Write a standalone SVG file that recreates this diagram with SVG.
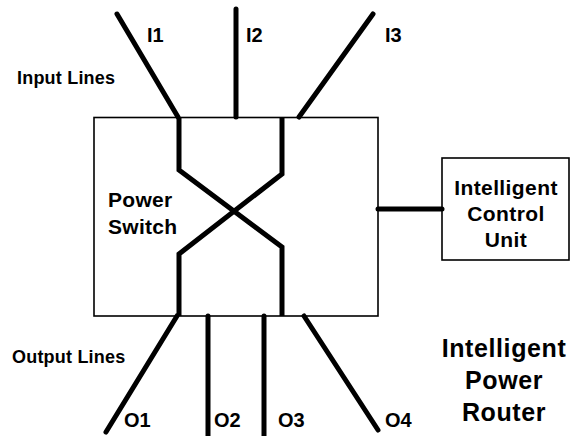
<svg xmlns="http://www.w3.org/2000/svg" width="571" height="436" viewBox="0 0 571 436">
<style>
.box{fill:#fff;stroke:#000;stroke-width:1.6}
.wire{fill:none;stroke:#000;stroke-width:5;stroke-linecap:round;stroke-linejoin:miter}
text{font-family:"Liberation Sans",Arial,sans-serif;font-weight:bold;fill:#000}
.lbl{font-size:20px}
.olbl{font-size:20px}
.side{font-size:18px;letter-spacing:0.2px}
.mid{font-size:21px;letter-spacing:0.4px;text-anchor:middle}
.big{font-size:25px;letter-spacing:0.6px;text-anchor:middle}
.ps{font-size:21px;letter-spacing:0.3px}
</style>
<rect width="571" height="436" fill="#fff"/>
<g id="power-switch">
<rect class="box" x="94" y="117.5" width="284" height="198.5"/>
<text class="ps" x="108" y="207">Power</text>
<text class="ps" x="108" y="234">Switch</text>
</g>
<g id="control-unit">
<rect class="box" x="442" y="158" width="127" height="102"/>
<text class="mid" x="506" y="195">Intelligent</text>
<text class="mid" x="506" y="221">Control</text>
<text class="mid" x="506" y="247">Unit</text>
</g>
<g id="connectors">
<line class="wire" x1="117" y1="14" x2="178" y2="117"/>
<line class="wire" x1="236" y1="9" x2="236" y2="117"/>
<line class="wire" x1="373" y1="14" x2="299" y2="117"/>
<path class="wire" d="M179,117 V170 L282,247 V316" style="stroke-linecap:butt"/>
<path class="wire" d="M282,117 V174 L179,254 V316" style="stroke-linecap:butt"/>
<line class="wire" x1="177" y1="316" x2="106" y2="432"/>
<line class="wire" x1="208" y1="316" x2="208" y2="438"/>
<line class="wire" x1="264" y1="316" x2="264" y2="438"/>
<line class="wire" x1="304" y1="316" x2="378" y2="430"/>
<line class="wire" x1="378" y1="209" x2="442" y2="209"/>
</g>
<g id="labels">
<text class="side" x="17" y="84">Input Lines</text>
<text class="side" x="12" y="363">Output Lines</text>
<text class="lbl" x="147" y="42">I1</text>
<text class="lbl" x="246" y="42">I2</text>
<text class="lbl" x="385" y="42">I3</text>
<text class="olbl" x="124" y="427">O1</text>
<text class="olbl" x="214" y="427">O2</text>
<text class="olbl" x="278" y="427">O3</text>
<text class="olbl" x="385" y="427">O4</text>
</g>
<g id="title">
<text class="big" x="504" y="357">Intelligent</text>
<text class="big" x="504" y="389">Power</text>
<text class="big" x="504" y="421">Router</text>
</g>
</svg>
